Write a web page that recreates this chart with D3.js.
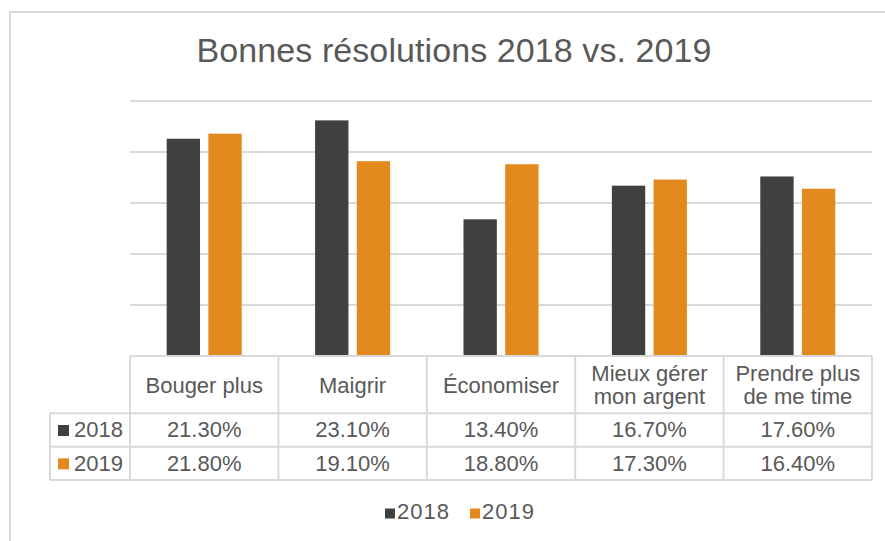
<!DOCTYPE html>
<html>
<head>
<meta charset="utf-8">
<script src="https://cdn.jsdelivr.net/npm/d3@7"></script>
<style>
html,body{margin:0;padding:0;background:#fff;}
svg{display:block;font-family:"Liberation Sans",Arial,sans-serif;}
</style>
</head>
<body>
<svg id="chart" width="885" height="541"></svg>
<script>
const title = "Bonnes résolutions 2018 vs. 2019";
const categories = ["Bouger plus", "Maigrir", "Économiser", "Mieux gérer mon argent", "Prendre plus de me time"];
const categoryLines = [["Bouger plus"], ["Maigrir"], ["Économiser"], ["Mieux gérer", "mon argent"], ["Prendre plus", "de me time"]];
const seriesNames = ["2018", "2019"];
const values2018 = [21.3, 23.1, 13.4, 16.7, 17.6];
const values2019 = [21.8, 19.1, 18.8, 17.3, 16.4];
const yTicks = [0, 5, 10, 15, 20, 25];
const colors = ["#404041", "#e38a1e"];

(function () {
const seriesValues = [values2018, values2019];
const svg = d3.select("#chart");
const textColor = "#595959";
const gridColor = "#d9d9d9";

// outer frame (extends beyond right/bottom edge)
svg.append("rect").attr("x", 10).attr("y", 12).attr("width", 900).attr("height", 600)
  .attr("fill", "none").attr("stroke", gridColor).attr("stroke-width", 2);

svg.append("text").attr("x", 454).attr("y", 62).attr("text-anchor", "middle")
  .attr("font-size", 34).attr("fill", textColor).attr("textLength", 515).attr("lengthAdjust", "spacing").text(title);

const pLeft = 130, pRight = 872, pTop = 101, pBase = 356;
const x = d3.scaleBand().domain(categories).range([pLeft, pRight]).padding(0);
const xs = d3.scaleBand().domain(seriesNames).range([0, x.bandwidth()]).paddingInner(0.2).paddingOuter(0.88);
const y = d3.scaleLinear().domain([0, 25]).range([pBase, pTop]);

// gridlines
svg.append("g").selectAll("line").data(yTicks).join("line")
  .attr("x1", pLeft).attr("x2", pRight)
  .attr("y1", d => y(d)).attr("y2", d => y(d))
  .attr("stroke", gridColor).attr("stroke-width", 2);

// bars
seriesNames.forEach((s, si) => {
  svg.append("g").selectAll("rect").data(categories).join("rect")
    .attr("x", c => x(c) + xs(s))
    .attr("width", xs.bandwidth())
    .attr("y", (c, i) => y(seriesValues[si][i]))
    .attr("height", (c, i) => pBase - y(seriesValues[si][i]))
    .attr("fill", colors[si]);
});

// data table
const headerBottom = 413.3, rowH = 33.35, tableLeft = 50;
const tb = svg.append("g").attr("stroke", gridColor).attr("stroke-width", 2).attr("fill", "none");
tb.append("line").attr("x1", pLeft).attr("x2", pRight).attr("y1", pBase).attr("y2", pBase);
tb.append("line").attr("x1", pLeft).attr("x2", pLeft).attr("y1", pBase).attr("y2", headerBottom);
[0, 1, 2].forEach(r => {
  tb.append("line").attr("x1", tableLeft).attr("x2", pRight)
    .attr("y1", headerBottom + r * rowH).attr("y2", headerBottom + r * rowH);
});
tb.append("line").attr("x1", tableLeft).attr("x2", tableLeft).attr("y1", headerBottom).attr("y2", headerBottom + 2 * rowH);
categories.forEach(c => {
  tb.append("line").attr("x1", x(c) + x.bandwidth()).attr("x2", x(c) + x.bandwidth())
    .attr("y1", pBase).attr("y2", headerBottom + 2 * rowH);
});
tb.append("line").attr("x1", pLeft).attr("x2", pLeft).attr("y1", headerBottom).attr("y2", headerBottom + 2 * rowH);

const tt = svg.append("g").attr("font-size", 22).attr("fill", textColor).attr("text-anchor", "middle");
categories.forEach((c, i) => {
  const lines = categoryLines[i];
  const cx = x(c) + x.bandwidth() / 2;
  if (lines.length === 1) {
    tt.append("text").attr("x", cx).attr("y", 392.5).text(lines[0]);
  } else {
    lines.forEach((l, li) => tt.append("text").attr("x", cx).attr("y", 380.8 + li * 23.6).text(l));
  }
  seriesNames.forEach((s, si) => {
    tt.append("text").attr("x", cx).attr("y", 437.3 + si * rowH)
      .text(seriesValues[si][i].toFixed(2) + "%");
  });
});
seriesNames.forEach((s, si) => {
  svg.append("rect").attr("x", 58).attr("y", 425 + si * rowH).attr("width", 11).attr("height", 11).attr("fill", colors[si]);
  svg.append("text").attr("x", 74).attr("y", 437.3 + si * rowH).attr("font-size", 22).attr("fill", textColor).text(s);
});

// bottom legend
const legX = [385, 470];
seriesNames.forEach((s, si) => {
  svg.append("rect").attr("x", legX[si]).attr("y", 508.5).attr("width", 10).attr("height", 10).attr("fill", colors[si]);
  svg.append("text").attr("x", legX[si] + 12).attr("y", 518.5).attr("font-size", 22)
    .attr("letter-spacing", 1).attr("fill", textColor).text(s);
});
})();
</script>
</body>
</html>
